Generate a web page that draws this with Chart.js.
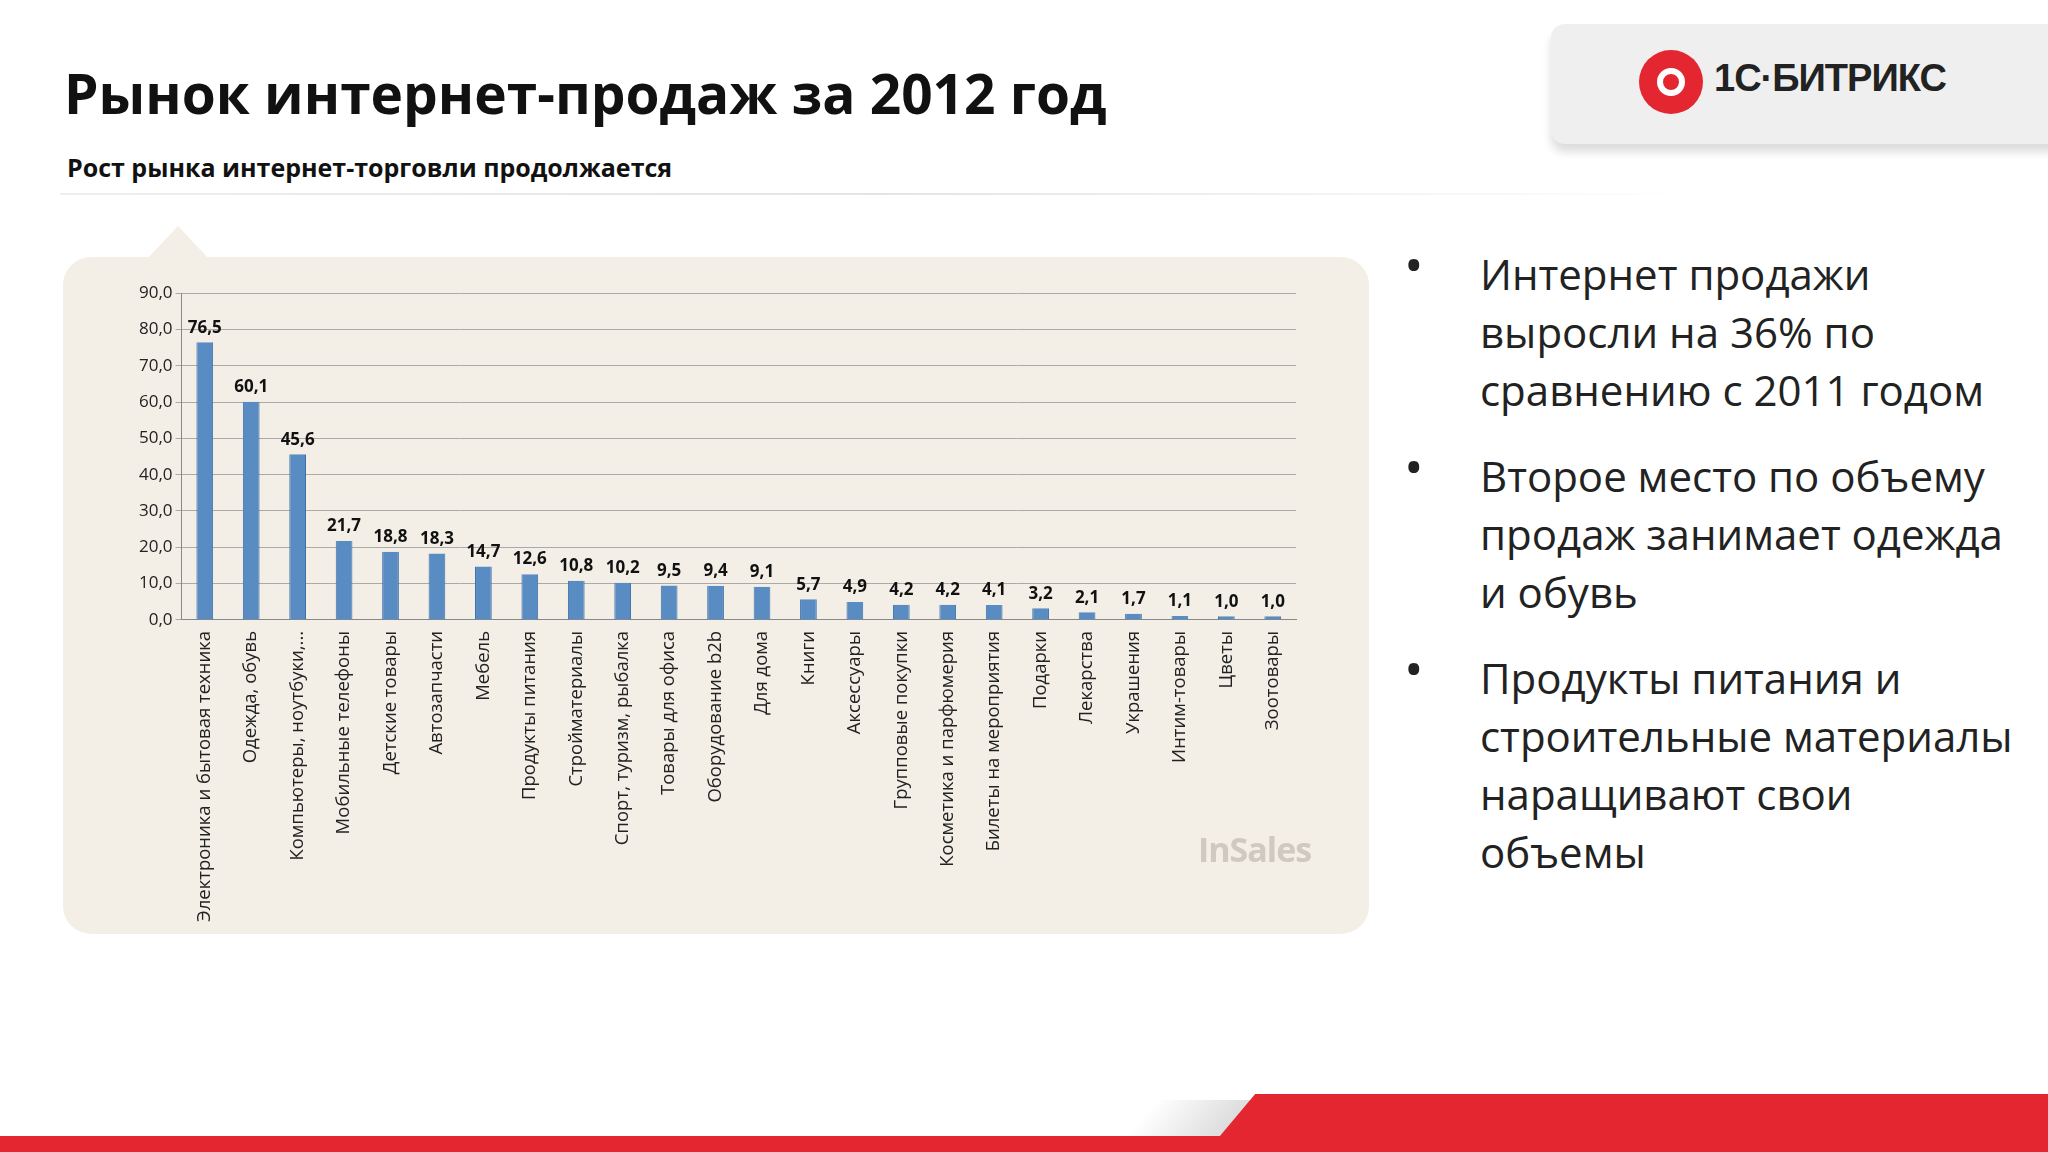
<!DOCTYPE html>
<html><head><meta charset="utf-8">
<script src="https://cdn.jsdelivr.net/npm/chart.js@4/dist/chart.umd.min.js"></script>
<style>
body{margin:0;width:2048px;height:1152px;background:#fff;position:relative;overflow:hidden;font-family:"Open Sans","Noto Sans",sans-serif;}
#title{position:absolute;left:64px;top:55px;font-size:55px;font-weight:700;color:#111;}
#sub{position:absolute;left:67px;top:150px;font-size:25px;font-weight:700;color:#111;}
#rule{position:absolute;left:60px;top:193px;width:1640px;height:2px;background:linear-gradient(90deg,#eee,#e4e4e4,#fff);}
#panel{position:absolute;left:63px;top:257px;width:1306px;height:677px;background:#f3efe6;border-radius:28px;}
#tip{position:absolute;left:148px;top:226px;width:0;height:0;border-left:30px solid transparent;border-right:30px solid transparent;border-bottom:32px solid #f3efe6;}
#wrap{position:absolute;left:136px;top:280px;width:1220px;height:645px;}
#ins{position:absolute;left:1198px;top:826px;font-size:34px;font-weight:700;color:#cfc9c0;letter-spacing:-1px;}
#logo{position:absolute;left:1551px;top:24px;width:520px;height:120px;background:#efefef;border-radius:14px;box-shadow:0 8px 10px #ddd;}
#logo .c{position:absolute;left:88px;top:26px;width:64px;height:64px;border-radius:50%;background:#e3262f;}
#logo .c:after{content:"";position:absolute;left:18px;top:18px;width:16px;height:16px;border:6px solid #fff;border-radius:50%;}
#logo .t{position:absolute;left:163px;top:33px;font-size:38px;font-weight:800;color:#222;font-family:"Liberation Sans",sans-serif;letter-spacing:-1px;}
ul{position:absolute;left:1400px;top:245px;margin:0;padding:0 0 0 80px;width:540px;font-size:42px;line-height:58px;color:#222;list-style:none;}
li{margin-bottom:28px;position:relative;}
li:before{content:"•";position:absolute;left:-76px;top:-10px;font-size:52px;}
#red{position:absolute;left:0;top:1136px;width:2048px;height:16px;background:#e3262f;}
#red2{position:absolute;left:1230px;top:1094px;width:900px;height:60px;background:#e3262f;transform:skewX(-40deg);}
#gray{position:absolute;left:1140px;top:1100px;width:140px;height:40px;background:linear-gradient(90deg,#fff,#ccc);transform:skewX(-40deg);}
</style></head><body>
<div id="title">Рынок интернет-продаж за 2012 год</div>
<div id="sub">Рост рынка интернет-торговли продолжается</div>
<div id="rule"></div>
<div id="logo"><div class="c"></div><div class="t">1С·БИТРИКС</div></div>
<div id="tip"></div>
<div id="panel"></div>
<div id="wrap"><canvas id="c"></canvas></div>
<div id="ins">InSales</div>
<ul>
<li>Интернет продажи выросли на 36% по сравнению с 2011 годом</li>
<li>Второе место по объему продаж занимает одежда и обувь</li>
<li>Продукты питания и строительные материалы наращивают свои объемы</li>
</ul>
<div id="gray"></div><div id="red2"></div><div id="red"></div>
<script>
const categories=["Электроника и бытовая техника","Одежда, обувь","Компьютеры, ноутбуки,...","Мобильные телефоны","Детские товары","Автозапчасти","Мебель","Продукты питания","Стройматериалы","Спорт, туризм, рыбалка","Товары для офиса","Оборудование b2b","Для дома","Книги","Аксессуары","Групповые покупки","Косметика и парфюмерия","Билеты на мероприятия","Подарки","Лекарства","Украшения","Интим-товары","Цветы","Зоотовары"];
const values=[76.5,60.1,45.6,21.7,18.8,18.3,14.7,12.6,10.8,10.2,9.5,9.4,9.1,5.7,4.9,4.2,4.2,4.1,3.2,2.1,1.7,1.1,1.0,1.0];
const fmt=v=>v.toFixed(1).replace('.',',');
const labelPlugin={id:'lbl',afterDatasetsDraw(ch){
  const ctx=ch.ctx;ctx.save();ctx.font='bold 17px "Open Sans"';ctx.fillStyle='#111';ctx.textAlign='center';ctx.textBaseline='bottom';
  ch.getDatasetMeta(0).data.forEach((b,i)=>ctx.fillText(fmt(values[i]),b.x,b.y-6));ctx.restore();}};
const ctx=document.getElementById('c').getContext('2d');
new Chart(ctx,{type:'bar',data:{labels:categories,datasets:[{data:values,
  backgroundColor:'#5a8cc4',borderColor:'#3f6fa6',borderWidth:{left:1,right:1,top:0,bottom:0},
  barPercentage:0.36,categoryPercentage:1}]},
  options:{responsive:true,maintainAspectRatio:false,animation:false,
  plugins:{legend:{display:false},tooltip:{enabled:false}},
  layout:{padding:{right:60,top:8}},
  scales:{y:{min:0,max:90,ticks:{stepSize:10,callback:v=>fmt(v),color:'#222',font:{size:17,family:'Open Sans'}},grid:{color:'#aaa',drawTicks:true,tickLength:6},border:{color:'#888'}},
  x:{ticks:{minRotation:90,maxRotation:90,color:'#222',font:{size:18.5,family:'Open Sans'},autoSkip:false},grid:{display:false},border:{color:'#888'}}}},
  plugins:[labelPlugin]});
</script>
</body></html>
